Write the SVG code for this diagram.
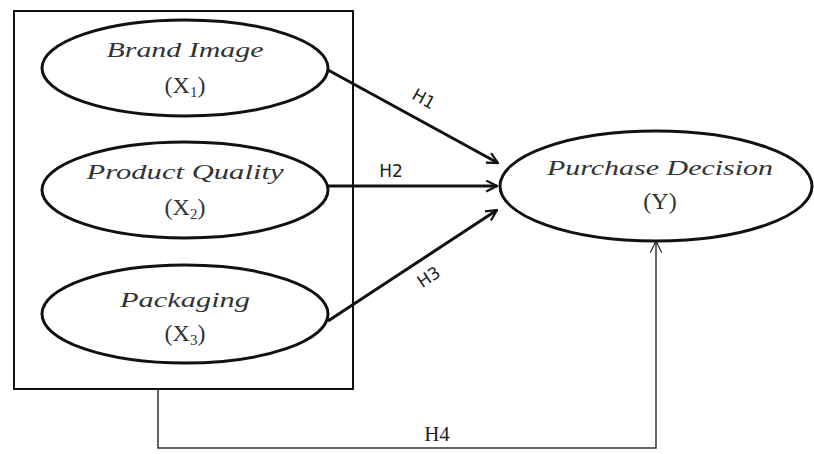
<svg xmlns="http://www.w3.org/2000/svg" width="814" height="454" viewBox="0 0 814 454">
<defs>
<marker id="ah" viewBox="0 0 12 12" refX="11" refY="6" markerWidth="13" markerHeight="13" markerUnits="userSpaceOnUse" orient="auto">
<path d="M1,1 L11,6 L1,11" fill="none" stroke="#111" stroke-width="2"/>
</marker>
<marker id="ah2" viewBox="0 0 12 12" refX="11" refY="6" markerWidth="14" markerHeight="14" markerUnits="userSpaceOnUse" orient="auto">
<path d="M1,1 L11,6 L1,11" fill="none" stroke="#222" stroke-width="1"/>
</marker>
</defs>
<style>
.el{fill:#fff;stroke:#111;stroke-width:3}
.lbl{font-family:"Liberation Serif",serif;font-style:italic;font-size:22px;fill:#333;text-anchor:middle}
.var{font-family:"Liberation Serif",serif;font-size:24px;fill:#333;text-anchor:middle}
.sub{font-size:15px}
.h{font-family:"DejaVu Sans","Liberation Sans",sans-serif;font-size:17px;fill:#222;text-anchor:middle}
.conn{stroke:#111;stroke-width:3;fill:none}
.thin{stroke:#333;stroke-width:1.5;fill:none}
</style>
<rect x="0" y="0" width="814" height="454" fill="#fff"/>
<g id="box"><rect x="14" y="11" width="339" height="378" fill="none" stroke="#111" stroke-width="2"/></g>
<g id="connectors">
<line class="conn" x1="328" y1="70" x2="498" y2="163" marker-end="url(#ah)"/>
<line class="conn" x1="328" y1="186" x2="497" y2="186" marker-end="url(#ah)"/>
<line class="conn" x1="328" y1="321" x2="497" y2="210" marker-end="url(#ah)"/>
<polyline class="thin" points="158,389 158,448 656,448 656,241" marker-end="url(#ah2)"/>
<text class="h" transform="translate(421,104) rotate(29)">H1</text>
<text class="h" x="391" y="177">H2</text>
<text class="h" transform="translate(432,282) rotate(-34)">H3</text>
<text x="437" y="441" font-family="Liberation Serif,serif" font-size="21" fill="#222" text-anchor="middle">H4</text>
</g>
<g id="brand">
<ellipse class="el" cx="185" cy="68" rx="143" ry="48"/>
<text class="lbl" x="185" y="57" textLength="157" lengthAdjust="spacingAndGlyphs">Brand Image</text>
<text class="var" x="185" y="93">(X<tspan class="sub" dy="4">1</tspan><tspan dy="-4">)</tspan></text>
</g>
<g id="quality">
<ellipse class="el" cx="185" cy="190" rx="143" ry="48"/>
<text class="lbl" x="185" y="179" textLength="197" lengthAdjust="spacingAndGlyphs">Product Quality</text>
<text class="var" x="185" y="215">(X<tspan class="sub" dy="4">2</tspan><tspan dy="-4">)</tspan></text>
</g>
<g id="packaging">
<ellipse class="el" cx="185" cy="314" rx="143" ry="49"/>
<text class="lbl" x="185" y="307" textLength="130" lengthAdjust="spacingAndGlyphs">Packaging</text>
<text class="var" x="185" y="341">(X<tspan class="sub" dy="4">3</tspan><tspan dy="-4">)</tspan></text>
</g>
<g id="purchase">
<ellipse class="el" cx="656" cy="186" rx="156" ry="55"/>
<text class="lbl" x="660" y="175" textLength="226" lengthAdjust="spacingAndGlyphs">Purchase Decision</text>
<text class="var" x="660" y="209">(Y)</text>
</g>
</svg>
